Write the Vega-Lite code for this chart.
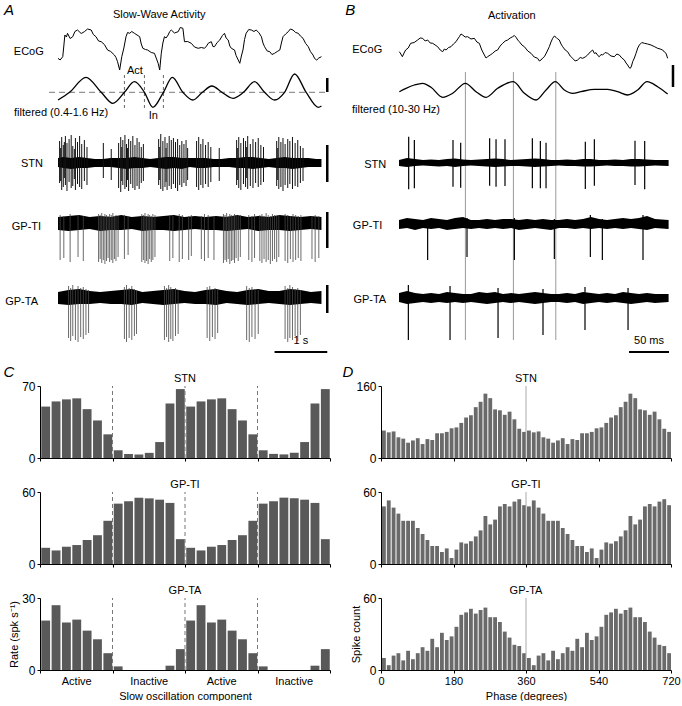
{
"$schema": "https://vega.github.io/schema/vega-lite/v6.json",
"background": "white",
"padding": {"left": 3, "top": 0, "right": 0, "bottom": 0},
"config": {
 "view": {"stroke": null},
 "font": "Liberation Sans",
 "axis": {"labelFont": "Liberation Sans", "titleFont": "Liberation Sans", "labelFontSize": 11, "titleFontSize": 11, "labelColor": "#000", "titleColor": "#000", "domainColor": "#000", "tickColor": "#000", "grid": false, "titleFontWeight": "normal", "tickSize": 3, "labelPadding": 2},
 "text": {"font": "Liberation Sans", "fontSize": 11, "color": "#000", "baseline": "middle"}
},
"datasets": {
 "C": [
  {"c":"STN","k":0,"k1":1,"r":50},{"c":"STN","k":1,"k1":2,"r":55},{"c":"STN","k":2,"k1":3,"r":57},{"c":"STN","k":3,"k1":4,"r":58},{"c":"STN","k":4,"k1":5,"r":47.5},{"c":"STN","k":5,"k1":6,"r":36.5},{"c":"STN","k":6,"k1":7,"r":23},
  {"c":"STN","k":7,"k1":8,"r":7.5},{"c":"STN","k":8,"k1":9,"r":4},{"c":"STN","k":9,"k1":10,"r":3.5},{"c":"STN","k":10,"k1":11,"r":5},{"c":"STN","k":11,"k1":12,"r":15.5},{"c":"STN","k":12,"k1":13,"r":53},{"c":"STN","k":13,"k1":14,"r":67},
  {"c":"STN","k":14,"k1":15,"r":50},{"c":"STN","k":15,"k1":16,"r":55},{"c":"STN","k":16,"k1":17,"r":57},{"c":"STN","k":17,"k1":18,"r":58},{"c":"STN","k":18,"k1":19,"r":47.5},{"c":"STN","k":19,"k1":20,"r":36.5},{"c":"STN","k":20,"k1":21,"r":23},
  {"c":"STN","k":21,"k1":22,"r":7.5},{"c":"STN","k":22,"k1":23,"r":4},{"c":"STN","k":23,"k1":24,"r":3.5},{"c":"STN","k":24,"k1":25,"r":5},{"c":"STN","k":25,"k1":26,"r":15.5},{"c":"STN","k":26,"k1":27,"r":53},{"c":"STN","k":27,"k1":28,"r":67},
  {"c":"GPTI","k":0,"k1":1,"r":13.5},{"c":"GPTI","k":1,"k1":2,"r":11.3},{"c":"GPTI","k":2,"k1":3,"r":14.4},{"c":"GPTI","k":3,"k1":4,"r":15.8},{"c":"GPTI","k":4,"k1":5,"r":20},{"c":"GPTI","k":5,"k1":6,"r":24},{"c":"GPTI","k":6,"k1":7,"r":36},
  {"c":"GPTI","k":7,"k1":8,"r":50.3},{"c":"GPTI","k":8,"k1":9,"r":52.3},{"c":"GPTI","k":9,"k1":10,"r":55.3},{"c":"GPTI","k":10,"k1":11,"r":54.7},{"c":"GPTI","k":11,"k1":12,"r":53.6},{"c":"GPTI","k":12,"k1":13,"r":50.9},{"c":"GPTI","k":13,"k1":14,"r":20.7},
  {"c":"GPTI","k":14,"k1":15,"r":13.5},{"c":"GPTI","k":15,"k1":16,"r":11.3},{"c":"GPTI","k":16,"k1":17,"r":14.4},{"c":"GPTI","k":17,"k1":18,"r":15.8},{"c":"GPTI","k":18,"k1":19,"r":20},{"c":"GPTI","k":19,"k1":20,"r":24},{"c":"GPTI","k":20,"k1":21,"r":36},
  {"c":"GPTI","k":21,"k1":22,"r":50.3},{"c":"GPTI","k":22,"k1":23,"r":52.3},{"c":"GPTI","k":23,"k1":24,"r":55.3},{"c":"GPTI","k":24,"k1":25,"r":54.7},{"c":"GPTI","k":25,"k1":26,"r":53.6},{"c":"GPTI","k":26,"k1":27,"r":50.9},{"c":"GPTI","k":27,"k1":28,"r":20.7},
  {"c":"GPTA","k":0,"k1":1,"r":20.6},{"c":"GPTA","k":1,"k1":2,"r":27},{"c":"GPTA","k":2,"k1":3,"r":19.8},{"c":"GPTA","k":3,"k1":4,"r":21},{"c":"GPTA","k":4,"k1":5,"r":16.4},{"c":"GPTA","k":5,"k1":6,"r":12.8},{"c":"GPTA","k":6,"k1":7,"r":7},
  {"c":"GPTA","k":7,"k1":8,"r":1.5},{"c":"GPTA","k":8,"k1":9,"r":0},{"c":"GPTA","k":9,"k1":10,"r":0},{"c":"GPTA","k":10,"k1":11,"r":0},{"c":"GPTA","k":11,"k1":12,"r":0},{"c":"GPTA","k":12,"k1":13,"r":1.8},{"c":"GPTA","k":13,"k1":14,"r":8.7},
  {"c":"GPTA","k":14,"k1":15,"r":20.6},{"c":"GPTA","k":15,"k1":16,"r":27},{"c":"GPTA","k":16,"k1":17,"r":19.8},{"c":"GPTA","k":17,"k1":18,"r":21},{"c":"GPTA","k":18,"k1":19,"r":16.4},{"c":"GPTA","k":19,"k1":20,"r":12.8},{"c":"GPTA","k":20,"k1":21,"r":7},
  {"c":"GPTA","k":21,"k1":22,"r":1.5},{"c":"GPTA","k":22,"k1":23,"r":0},{"c":"GPTA","k":23,"k1":24,"r":0},{"c":"GPTA","k":24,"k1":25,"r":0},{"c":"GPTA","k":25,"k1":26,"r":0},{"c":"GPTA","k":26,"k1":27,"r":1.8},{"c":"GPTA","k":27,"k1":28,"r":8.7}
 ],
 "D": [
  {"c":"STN","p":0,"p1":12,"n":61},{"c":"STN","p":12,"p1":24,"n":57},{"c":"STN","p":24,"p1":36,"n":59},{"c":"STN","p":36,"p1":48,"n":46},{"c":"STN","p":48,"p1":60,"n":43},{"c":"STN","p":60,"p1":72,"n":34},{"c":"STN","p":72,"p1":84,"n":39},{"c":"STN","p":84,"p1":96,"n":44},{"c":"STN","p":96,"p1":108,"n":31},{"c":"STN","p":108,"p1":120,"n":42},
  {"c":"STN","p":120,"p1":132,"n":40},{"c":"STN","p":132,"p1":144,"n":55},{"c":"STN","p":144,"p1":156,"n":55},{"c":"STN","p":156,"p1":168,"n":58},{"c":"STN","p":168,"p1":180,"n":66},{"c":"STN","p":180,"p1":192,"n":68},{"c":"STN","p":192,"p1":204,"n":78},{"c":"STN","p":204,"p1":216,"n":90},{"c":"STN","p":216,"p1":228,"n":95},{"c":"STN","p":228,"p1":240,"n":113},
  {"c":"STN","p":240,"p1":252,"n":125},{"c":"STN","p":252,"p1":264,"n":143},{"c":"STN","p":264,"p1":276,"n":133},{"c":"STN","p":276,"p1":288,"n":108},{"c":"STN","p":288,"p1":300,"n":106},{"c":"STN","p":300,"p1":312,"n":96},{"c":"STN","p":312,"p1":324,"n":103},{"c":"STN","p":324,"p1":336,"n":86},{"c":"STN","p":336,"p1":348,"n":65},{"c":"STN","p":348,"p1":360,"n":58},
  {"c":"STN","p":360,"p1":372,"n":61},{"c":"STN","p":372,"p1":384,"n":57},{"c":"STN","p":384,"p1":396,"n":59},{"c":"STN","p":396,"p1":408,"n":46},{"c":"STN","p":408,"p1":420,"n":43},{"c":"STN","p":420,"p1":432,"n":34},{"c":"STN","p":432,"p1":444,"n":39},{"c":"STN","p":444,"p1":456,"n":44},{"c":"STN","p":456,"p1":468,"n":31},{"c":"STN","p":468,"p1":480,"n":42},
  {"c":"STN","p":480,"p1":492,"n":40},{"c":"STN","p":492,"p1":504,"n":55},{"c":"STN","p":504,"p1":516,"n":55},{"c":"STN","p":516,"p1":528,"n":58},{"c":"STN","p":528,"p1":540,"n":66},{"c":"STN","p":540,"p1":552,"n":68},{"c":"STN","p":552,"p1":564,"n":78},{"c":"STN","p":564,"p1":576,"n":90},{"c":"STN","p":576,"p1":588,"n":95},{"c":"STN","p":588,"p1":600,"n":113},
  {"c":"STN","p":600,"p1":612,"n":125},{"c":"STN","p":612,"p1":624,"n":143},{"c":"STN","p":624,"p1":636,"n":133},{"c":"STN","p":636,"p1":648,"n":108},{"c":"STN","p":648,"p1":660,"n":106},{"c":"STN","p":660,"p1":672,"n":96},{"c":"STN","p":672,"p1":684,"n":103},{"c":"STN","p":684,"p1":696,"n":86},{"c":"STN","p":696,"p1":708,"n":65},{"c":"STN","p":708,"p1":720,"n":58},
  {"c":"GPTI","p":0,"p1":12,"n":48},{"c":"GPTI","p":12,"p1":24,"n":53},{"c":"GPTI","p":24,"p1":36,"n":47},{"c":"GPTI","p":36,"p1":48,"n":42},{"c":"GPTI","p":48,"p1":60,"n":36},{"c":"GPTI","p":60,"p1":72,"n":36},{"c":"GPTI","p":72,"p1":84,"n":36},{"c":"GPTI","p":84,"p1":96,"n":30},{"c":"GPTI","p":96,"p1":108,"n":25},{"c":"GPTI","p":108,"p1":120,"n":20},
  {"c":"GPTI","p":120,"p1":132,"n":15},{"c":"GPTI","p":132,"p1":144,"n":15},{"c":"GPTI","p":144,"p1":156,"n":10},{"c":"GPTI","p":156,"p1":168,"n":13},{"c":"GPTI","p":168,"p1":180,"n":5},{"c":"GPTI","p":180,"p1":192,"n":12},{"c":"GPTI","p":192,"p1":204,"n":18},{"c":"GPTI","p":204,"p1":216,"n":17},{"c":"GPTI","p":216,"p1":228,"n":19},{"c":"GPTI","p":228,"p1":240,"n":23},
  {"c":"GPTI","p":240,"p1":252,"n":28},{"c":"GPTI","p":252,"p1":264,"n":40},{"c":"GPTI","p":264,"p1":276,"n":33},{"c":"GPTI","p":276,"p1":288,"n":37},{"c":"GPTI","p":288,"p1":300,"n":48},{"c":"GPTI","p":300,"p1":312,"n":50},{"c":"GPTI","p":312,"p1":324,"n":48},{"c":"GPTI","p":324,"p1":336,"n":52},{"c":"GPTI","p":336,"p1":348,"n":54},{"c":"GPTI","p":348,"p1":360,"n":49},
  {"c":"GPTI","p":360,"p1":372,"n":48},{"c":"GPTI","p":372,"p1":384,"n":53},{"c":"GPTI","p":384,"p1":396,"n":47},{"c":"GPTI","p":396,"p1":408,"n":42},{"c":"GPTI","p":408,"p1":420,"n":36},{"c":"GPTI","p":420,"p1":432,"n":36},{"c":"GPTI","p":432,"p1":444,"n":36},{"c":"GPTI","p":444,"p1":456,"n":30},{"c":"GPTI","p":456,"p1":468,"n":25},{"c":"GPTI","p":468,"p1":480,"n":20},
  {"c":"GPTI","p":480,"p1":492,"n":15},{"c":"GPTI","p":492,"p1":504,"n":15},{"c":"GPTI","p":504,"p1":516,"n":10},{"c":"GPTI","p":516,"p1":528,"n":13},{"c":"GPTI","p":528,"p1":540,"n":5},{"c":"GPTI","p":540,"p1":552,"n":12},{"c":"GPTI","p":552,"p1":564,"n":18},{"c":"GPTI","p":564,"p1":576,"n":17},{"c":"GPTI","p":576,"p1":588,"n":19},{"c":"GPTI","p":588,"p1":600,"n":23},
  {"c":"GPTI","p":600,"p1":612,"n":28},{"c":"GPTI","p":612,"p1":624,"n":40},{"c":"GPTI","p":624,"p1":636,"n":33},{"c":"GPTI","p":636,"p1":648,"n":37},{"c":"GPTI","p":648,"p1":660,"n":48},{"c":"GPTI","p":660,"p1":672,"n":50},{"c":"GPTI","p":672,"p1":684,"n":48},{"c":"GPTI","p":684,"p1":696,"n":52},{"c":"GPTI","p":696,"p1":708,"n":54},{"c":"GPTI","p":708,"p1":720,"n":49},
  {"c":"GPTA","p":0,"p1":12,"n":10},{"c":"GPTA","p":12,"p1":24,"n":4},{"c":"GPTA","p":24,"p1":36,"n":12},{"c":"GPTA","p":36,"p1":48,"n":14},{"c":"GPTA","p":48,"p1":60,"n":8},{"c":"GPTA","p":60,"p1":72,"n":16},{"c":"GPTA","p":72,"p1":84,"n":9},{"c":"GPTA","p":84,"p1":96,"n":14},{"c":"GPTA","p":96,"p1":108,"n":19},{"c":"GPTA","p":108,"p1":120,"n":16},
  {"c":"GPTA","p":120,"p1":132,"n":26},{"c":"GPTA","p":132,"p1":144,"n":19},{"c":"GPTA","p":144,"p1":156,"n":31},{"c":"GPTA","p":156,"p1":168,"n":25},{"c":"GPTA","p":168,"p1":180,"n":28},{"c":"GPTA","p":180,"p1":192,"n":36},{"c":"GPTA","p":192,"p1":204,"n":46},{"c":"GPTA","p":204,"p1":216,"n":48},{"c":"GPTA","p":216,"p1":228,"n":51},{"c":"GPTA","p":228,"p1":240,"n":47},
  {"c":"GPTA","p":240,"p1":252,"n":50},{"c":"GPTA","p":252,"p1":264,"n":52},{"c":"GPTA","p":264,"p1":276,"n":44},{"c":"GPTA","p":276,"p1":288,"n":44},{"c":"GPTA","p":288,"p1":300,"n":40},{"c":"GPTA","p":300,"p1":312,"n":32},{"c":"GPTA","p":312,"p1":324,"n":27},{"c":"GPTA","p":324,"p1":336,"n":21},{"c":"GPTA","p":336,"p1":348,"n":20},{"c":"GPTA","p":348,"p1":360,"n":14},
  {"c":"GPTA","p":360,"p1":372,"n":10},{"c":"GPTA","p":372,"p1":384,"n":4},{"c":"GPTA","p":384,"p1":396,"n":12},{"c":"GPTA","p":396,"p1":408,"n":14},{"c":"GPTA","p":408,"p1":420,"n":8},{"c":"GPTA","p":420,"p1":432,"n":16},{"c":"GPTA","p":432,"p1":444,"n":9},{"c":"GPTA","p":444,"p1":456,"n":14},{"c":"GPTA","p":456,"p1":468,"n":19},{"c":"GPTA","p":468,"p1":480,"n":16},
  {"c":"GPTA","p":480,"p1":492,"n":26},{"c":"GPTA","p":492,"p1":504,"n":19},{"c":"GPTA","p":504,"p1":516,"n":31},{"c":"GPTA","p":516,"p1":528,"n":25},{"c":"GPTA","p":528,"p1":540,"n":28},{"c":"GPTA","p":540,"p1":552,"n":36},{"c":"GPTA","p":552,"p1":564,"n":46},{"c":"GPTA","p":564,"p1":576,"n":48},{"c":"GPTA","p":576,"p1":588,"n":51},{"c":"GPTA","p":588,"p1":600,"n":47},
  {"c":"GPTA","p":600,"p1":612,"n":50},{"c":"GPTA","p":612,"p1":624,"n":52},{"c":"GPTA","p":624,"p1":636,"n":44},{"c":"GPTA","p":636,"p1":648,"n":44},{"c":"GPTA","p":648,"p1":660,"n":40},{"c":"GPTA","p":660,"p1":672,"n":32},{"c":"GPTA","p":672,"p1":684,"n":27},{"c":"GPTA","p":684,"p1":696,"n":21},{"c":"GPTA","p":696,"p1":708,"n":20},{"c":"GPTA","p":708,"p1":720,"n":14}
 ]
},
"spacing": 5,
"vconcat": [
{"hconcat": [
 {"vconcat": [
  {"width": 292, "height": 72,
   "encoding": {"x": {"field": "t", "type": "quantitative", "scale": {"domain": [-0.342, 5.2], "nice": false, "zero": false}, "axis": null},
                "y": {"field": "v", "type": "quantitative", "scale": {"domain": [-2, 70], "nice": false, "zero": false}, "axis": null}},
   "layer": [
    {"data": {"values": [
      {"t":0.00,"v":11.7},{"t":0.04,"v":10.0},{"t":0.09,"v":13.3},{"t":0.11,"v":24.0},{"t":0.13,"v":35.0},{"t":0.16,"v":33.0},{"t":0.18,"v":36.7},{"t":0.23,"v":31.5},{"t":0.28,"v":33.3},{"t":0.32,"v":38.5},
      {"t":0.37,"v":40.0},{"t":0.44,"v":36.5},{"t":0.50,"v":38.3},{"t":0.56,"v":41.0},{"t":0.63,"v":40.0},{"t":0.67,"v":35.5},{"t":0.72,"v":33.3},{"t":0.77,"v":29.0},{"t":0.82,"v":28.3},{"t":0.88,"v":25.5},
      {"t":0.94,"v":20.0},{"t":1.00,"v":18.5},{"t":1.07,"v":15.0},{"t":1.10,"v":12.5},{"t":1.13,"v":8.3},{"t":1.17,"v":0.0},{"t":1.21,"v":13.3},{"t":1.25,"v":22.0},{"t":1.29,"v":33.3},{"t":1.32,"v":37.5},
      {"t":1.36,"v":36.7},{"t":1.40,"v":38.5},{"t":1.45,"v":36.7},{"t":1.50,"v":35.0},{"t":1.55,"v":33.3},{"t":1.58,"v":26.0},{"t":1.61,"v":21.7},{"t":1.66,"v":20.5},{"t":1.70,"v":20.0},{"t":1.77,"v":17.5},
      {"t":1.83,"v":16.7},{"t":1.87,"v":11.0},{"t":1.90,"v":6.7},{"t":1.93,"v":0.0},{"t":1.96,"v":16.7},{"t":1.99,"v":27.0},{"t":2.02,"v":33.3},{"t":2.05,"v":32.0},{"t":2.09,"v":35.0},{"t":2.12,"v":38.5},
      {"t":2.15,"v":40.0},{"t":2.21,"v":37.0},{"t":2.28,"v":38.3},{"t":2.32,"v":42.5},{"t":2.37,"v":41.7},{"t":2.40,"v":28.3},{"t":2.46,"v":28.5},{"t":2.53,"v":26.7},{"t":2.59,"v":23.0},{"t":2.66,"v":21.7},
      {"t":2.72,"v":22.5},{"t":2.78,"v":21.7},{"t":2.82,"v":24.0},{"t":2.85,"v":26.7},{"t":2.91,"v":28.3},{"t":2.94,"v":23.5},{"t":2.97,"v":23.3},{"t":3.02,"v":27.5},{"t":3.07,"v":30.0},{"t":3.12,"v":34.5},
      {"t":3.16,"v":36.7},{"t":3.19,"v":32.0},{"t":3.23,"v":30.0},{"t":3.26,"v":24.0},{"t":3.29,"v":21.7},{"t":3.35,"v":20.0},{"t":3.38,"v":14.5},{"t":3.42,"v":10.0},{"t":3.45,"v":6.7},{"t":3.48,"v":14.0},
      {"t":3.51,"v":20.0},{"t":3.54,"v":30.5},{"t":3.57,"v":36.7},{"t":3.62,"v":40.5},{"t":3.67,"v":40.0},{"t":3.72,"v":38.5},{"t":3.76,"v":40.0},{"t":3.81,"v":37.5},{"t":3.86,"v":33.3},{"t":3.89,"v":27.0},
      {"t":3.92,"v":23.3},{"t":3.97,"v":19.0},{"t":4.02,"v":18.3},{"t":4.06,"v":15.5},{"t":4.11,"v":16.7},{"t":4.16,"v":18.5},{"t":4.21,"v":20.0},{"t":4.24,"v":27.0},{"t":4.27,"v":33.3},{"t":4.32,"v":36.0},
      {"t":4.37,"v":38.3},{"t":4.41,"v":41.0},{"t":4.46,"v":40.0},{"t":4.51,"v":37.5},{"t":4.56,"v":36.7},{"t":4.60,"v":34.0},{"t":4.65,"v":31.7},{"t":4.70,"v":26.5},{"t":4.75,"v":23.3},{"t":4.79,"v":18.5},
      {"t":4.84,"v":15.0},{"t":4.87,"v":11.5},{"t":4.91,"v":10.0},{"t":4.95,"v":12.0},{"t":5.00,"v":13.3}]},
     "mark": {"type": "line", "color": "#000", "strokeWidth": 1}},
    {"data": {"values": [{"t": -0.93, "v": 60, "lab": "A"}]}, "mark": {"type": "text", "fontSize": 15, "fontStyle": "italic"}, "encoding": {"text": {"field": "lab"}}},
    {"data": {"values": [{"t": 1.92, "v": 55, "lab": "Slow-Wave Activity"}]}, "mark": {"type": "text"}, "encoding": {"text": {"field": "lab"}}},
    {"data": {"values": [{"t": -0.27, "v": 18, "lab": "ECoG"}]}, "mark": {"type": "text", "align": "right"}, "encoding": {"text": {"field": "lab"}}}
   ]},
  {"width": 292, "height": 46,
   "encoding": {"x": {"field": "t", "type": "quantitative", "scale": {"domain": [-0.342, 5.2], "nice": false, "zero": false}, "axis": null},
                "y": {"field": "v", "type": "quantitative", "scale": {"domain": [-25.7, 20.3], "nice": false, "zero": false}, "axis": null}},
   "layer": [
    {"data": {"values": [{"t": -0.17, "t2": 5.09, "v": 0}]}, "mark": {"type": "rule", "color": "#777", "strokeDash": [6, 4], "strokeWidth": 1},
     "encoding": {"x2": {"field": "t2"}}},
    {"data": {"values": [{"t": 1.26, "v": 17.3, "v2": -17.7}, {"t": 1.64, "v": 17.3, "v2": -17.7}, {"t": 2.0, "v": 17.3, "v2": -17.7}]}, "mark": {"type": "rule", "color": "#666", "strokeDash": [3, 3], "strokeWidth": 1},
     "encoding": {"y2": {"field": "v2"}}},
    {"data": {"values": [
      {"t":0.00,"v":-7.7},{"t":0.22,"v":0},{"t":0.53,"v":15},{"t":0.82,"v":0},{"t":1.04,"v":-11},{"t":1.26,"v":0},{"t":1.45,"v":10.6},{"t":1.64,"v":0},{"t":1.80,"v":-15},{"t":2.00,"v":0},
      {"t":2.17,"v":15},{"t":2.37,"v":0},{"t":2.56,"v":-7.7},{"t":2.74,"v":0},{"t":2.92,"v":6.3},{"t":3.11,"v":0},{"t":3.32,"v":-6},{"t":3.52,"v":0},{"t":3.73,"v":10.6},{"t":3.92,"v":0},
      {"t":4.11,"v":-7.7},{"t":4.30,"v":0},{"t":4.49,"v":18.3},{"t":4.71,"v":0},{"t":4.94,"v":-15},{"t":5.00,"v":-13.7}]},
     "mark": {"type": "line", "color": "#000", "strokeWidth": 1.3, "interpolate": "monotone"}},
    {"data": {"values": [{"t": 1.46, "v": 21.6, "lab": "Act"}, {"t": 1.81, "v": -23.4, "lab": "In"}]}, "mark": {"type": "text"}, "encoding": {"text": {"field": "lab"}}},
    {"data": {"values": [{"t": -0.835, "v": -20.2, "lab": "filtered (0.4-1.6 Hz)"}]}, "mark": {"type": "text", "align": "left"}, "encoding": {"text": {"field": "lab"}}},
    {"data": {"values": [{"t": 5.11, "v": 14.3, "v2": 0.3}]}, "mark": {"type": "rule", "color": "#000", "strokeWidth": 2.5},
     "encoding": {"y2": {"field": "v2"}}}
   ]},
  {"width": 292, "height": 82,
   "encoding": {"x": {"field": "t", "type": "quantitative", "scale": {"domain": [-0.342, 5.2], "nice": false, "zero": false}, "axis": null},
                "y": {"field": "v", "type": "quantitative", "scale": {"domain": [-37, 45], "nice": false, "zero": false}, "axis": null}},
   "layer": [
    {"data": {"values": [
      {"t":0.00,"lo":-4,"hi":5},{"t":0.10,"lo":-5,"hi":6},{"t":0.25,"lo":-6,"hi":5},{"t":0.40,"lo":-5,"hi":6},{"t":0.55,"lo":-5,"hi":5},{"t":0.70,"lo":-4,"hi":4},{"t":0.85,"lo":-4,"hi":4},{"t":1.00,"lo":-4,"hi":5},
      {"t":1.15,"lo":-5,"hi":5},{"t":1.30,"lo":-6,"hi":5},{"t":1.45,"lo":-5,"hi":6},{"t":1.60,"lo":-5,"hi":5},{"t":1.75,"lo":-4,"hi":4},{"t":1.90,"lo":-5,"hi":5},{"t":2.05,"lo":-6,"hi":6},{"t":2.20,"lo":-5,"hi":6},
      {"t":2.35,"lo":-6,"hi":5},{"t":2.50,"lo":-4,"hi":5},{"t":2.65,"lo":-5,"hi":5},{"t":2.80,"lo":-5,"hi":5},{"t":2.95,"lo":-4,"hi":4},{"t":3.10,"lo":-4,"hi":4},{"t":3.25,"lo":-4,"hi":5},{"t":3.40,"lo":-5,"hi":5},
      {"t":3.55,"lo":-5,"hi":6},{"t":3.70,"lo":-6,"hi":6},{"t":3.85,"lo":-5,"hi":5},{"t":4.00,"lo":-4,"hi":4},{"t":4.15,"lo":-5,"hi":5},{"t":4.30,"lo":-5,"hi":6},{"t":4.45,"lo":-6,"hi":5},{"t":4.60,"lo":-5,"hi":5},
      {"t":4.75,"lo":-4,"hi":5},{"t":4.90,"lo":-4,"hi":4},{"t":5.00,"lo":-4,"hi":4}]},
     "mark": {"type": "area", "color": "#000"},
     "encoding": {"y": {"field": "lo", "type": "quantitative", "axis": null}, "y2": {"field": "hi"}}},
    {"data": {"values": [
      {"t":0.03,"hi":22,"lo":-20},{"t":0.05,"hi":15,"lo":-18},{"t":0.07,"hi":26,"lo":-27},{"t":0.10,"hi":18,"lo":-24},{"t":0.12,"hi":21,"lo":-15},{"t":0.14,"hi":27,"lo":-22},{"t":0.17,"hi":20,"lo":-28},{"t":0.21,"hi":24,"lo":-19},{"t":0.25,"hi":28,"lo":-25},
      {"t":0.28,"hi":17,"lo":-23},{"t":0.31,"hi":14,"lo":-16},{"t":0.33,"hi":25,"lo":-27},{"t":0.37,"hi":21,"lo":-21},{"t":0.41,"hi":27,"lo":-24},{"t":0.45,"hi":19,"lo":-26},{"t":0.50,"hi":23,"lo":-18},{"t":0.55,"hi":16,"lo":-22},
      {"t":0.86,"hi":20,"lo":-15},{"t":1.01,"hi":14,"lo":-17},
      {"t":1.15,"hi":20,"lo":-25},{"t":1.19,"hi":26,"lo":-29},{"t":1.21,"hi":16,"lo":-18},{"t":1.23,"hi":23,"lo":-22},{"t":1.27,"hi":28,"lo":-26},{"t":1.30,"hi":19,"lo":-24},{"t":1.32,"hi":15,"lo":-17},{"t":1.34,"hi":24,"lo":-28},{"t":1.38,"hi":22,"lo":-21},
      {"t":1.42,"hi":27,"lo":-25},{"t":1.46,"hi":18,"lo":-27},{"t":1.50,"hi":25,"lo":-23},{"t":1.54,"hi":21,"lo":-26},{"t":1.58,"hi":16,"lo":-20},{"t":1.62,"hi":19,"lo":-18},
      {"t":1.91,"hi":24,"lo":-22},{"t":1.93,"hi":16,"lo":-17},{"t":1.95,"hi":29,"lo":-26},{"t":1.99,"hi":22,"lo":-28},{"t":2.03,"hi":26,"lo":-24},{"t":2.05,"hi":15,"lo":-19},{"t":2.07,"hi":20,"lo":-27},{"t":2.11,"hi":27,"lo":-23},{"t":2.15,"hi":23,"lo":-26},
      {"t":2.19,"hi":25,"lo":-21},{"t":2.23,"hi":21,"lo":-25},{"t":2.27,"hi":24,"lo":-28},{"t":2.31,"hi":18,"lo":-22},{"t":2.35,"hi":22,"lo":-24},{"t":2.39,"hi":19,"lo":-20},{"t":2.43,"hi":23,"lo":-23},{"t":2.46,"hi":15,"lo":-17},
      {"t":2.63,"hi":22,"lo":-24},{"t":2.67,"hi":26,"lo":-27},{"t":2.71,"hi":19,"lo":-22},{"t":2.75,"hi":24,"lo":-25},{"t":2.80,"hi":18,"lo":-21},{"t":2.85,"hi":21,"lo":-24},{"t":2.90,"hi":16,"lo":-19},{"t":3.06,"hi":15,"lo":-18},
      {"t":3.39,"hi":23,"lo":-22},{"t":3.41,"hi":15,"lo":-17},{"t":3.43,"hi":26,"lo":-25},{"t":3.47,"hi":20,"lo":-27},{"t":3.52,"hi":25,"lo":-21},{"t":3.56,"hi":22,"lo":-24},{"t":3.58,"hi":16,"lo":-15},{"t":3.60,"hi":27,"lo":-26},{"t":3.65,"hi":19,"lo":-23},
      {"t":3.70,"hi":24,"lo":-25},{"t":3.75,"hi":21,"lo":-20},{"t":3.80,"hi":25,"lo":-24},{"t":3.85,"hi":18,"lo":-22},{"t":3.90,"hi":16,"lo":-19},
      {"t":4.15,"hi":22,"lo":-23},{"t":4.17,"hi":15,"lo":-17},{"t":4.19,"hi":26,"lo":-26},{"t":4.23,"hi":21,"lo":-24},{"t":4.27,"hi":25,"lo":-28},{"t":4.31,"hi":19,"lo":-22},{"t":4.36,"hi":24,"lo":-25},{"t":4.40,"hi":22,"lo":-21},
      {"t":4.45,"hi":26,"lo":-26},{"t":4.50,"hi":20,"lo":-23},{"t":4.55,"hi":23,"lo":-24},{"t":4.60,"hi":17,"lo":-20},{"t":4.65,"hi":15,"lo":-18}]},
     "mark": {"type": "rule", "color": "#111", "strokeWidth": 1},
     "encoding": {"y": {"field": "hi", "type": "quantitative", "axis": null}, "y2": {"field": "lo"}}},
    {"data": {"values": [{"t": -0.285, "v": -1, "lab": "STN"}]}, "mark": {"type": "text", "align": "right"}, "encoding": {"text": {"field": "lab"}}},
    {"data": {"values": [{"t": 5.11, "v": 18, "v2": -19}]}, "mark": {"type": "rule", "color": "#000", "strokeWidth": 2.5},
     "encoding": {"y2": {"field": "v2"}}}
   ]},
  {"width": 292, "height": 70,
   "encoding": {"x": {"field": "t", "type": "quantitative", "scale": {"domain": [-0.342, 5.2], "nice": false, "zero": false}, "axis": null},
                "y": {"field": "v", "type": "quantitative", "scale": {"domain": [-46, 24], "nice": false, "zero": false}, "axis": null}},
   "layer": [
    {"data": {"values": [
      {"t":0.0,"lo":-6,"hi":7},{"t":0.2,"lo":-7,"hi":8},{"t":0.4,"lo":-6,"hi":9},{"t":0.6,"lo":-5,"hi":7},{"t":0.8,"lo":-7,"hi":8},{"t":1.0,"lo":-6,"hi":7},{"t":1.2,"lo":-6,"hi":9},{"t":1.4,"lo":-5,"hi":7},
      {"t":1.6,"lo":-7,"hi":8},{"t":1.8,"lo":-6,"hi":7},{"t":2.0,"lo":-6,"hi":8},{"t":2.2,"lo":-7,"hi":9},{"t":2.4,"lo":-6,"hi":7},{"t":2.6,"lo":-5,"hi":8},{"t":2.8,"lo":-6,"hi":7},{"t":3.0,"lo":-6,"hi":8},
      {"t":3.2,"lo":-7,"hi":7},{"t":3.4,"lo":-6,"hi":9},{"t":3.6,"lo":-5,"hi":7},{"t":3.8,"lo":-7,"hi":8},{"t":4.0,"lo":-6,"hi":7},{"t":4.2,"lo":-6,"hi":9},{"t":4.4,"lo":-7,"hi":8},{"t":4.6,"lo":-6,"hi":7},
      {"t":4.8,"lo":-5,"hi":8},{"t":5.0,"lo":-6,"hi":7}]},
     "mark": {"type": "area", "color": "#000"},
     "encoding": {"y": {"field": "lo", "type": "quantitative", "axis": null}, "y2": {"field": "hi"}}},
    {"data": {"values": [
      {"t":0.04,"hi":9,"lo":-36},{"t":0.11,"hi":8,"lo":-34},{"t":0.23,"hi":10,"lo":-38},{"t":0.38,"hi":9,"lo":-33},{"t":0.48,"hi":8,"lo":-37},
      {"t":0.77,"hi":10,"lo":-38},{"t":0.80,"hi":9,"lo":-35},{"t":0.83,"hi":11,"lo":-39},{"t":0.86,"hi":8,"lo":-36},{"t":0.89,"hi":10,"lo":-40},{"t":0.92,"hi":9,"lo":-37},{"t":0.95,"hi":8,"lo":-34},
      {"t":0.98,"hi":10,"lo":-38},{"t":1.01,"hi":9,"lo":-36},{"t":1.04,"hi":11,"lo":-39},{"t":1.07,"hi":8,"lo":-35},{"t":1.10,"hi":9,"lo":-37},{"t":1.14,"hi":8,"lo":-33},{"t":1.26,"hi":9,"lo":-35},{"t":1.33,"hi":8,"lo":-31},
      {"t":1.59,"hi":10,"lo":-38},{"t":1.62,"hi":9,"lo":-36},{"t":1.65,"hi":11,"lo":-39},{"t":1.68,"hi":8,"lo":-37},{"t":1.71,"hi":10,"lo":-40},{"t":1.74,"hi":9,"lo":-35},{"t":1.77,"hi":8,"lo":-38},{"t":1.80,"hi":10,"lo":-36},{"t":1.84,"hi":9,"lo":-33},
      {"t":2.12,"hi":9,"lo":-37},{"t":2.18,"hi":8,"lo":-34},{"t":2.30,"hi":10,"lo":-38},{"t":2.36,"hi":9,"lo":-35},{"t":2.48,"hi":8,"lo":-36},{"t":2.53,"hi":9,"lo":-32},
      {"t":2.72,"hi":8,"lo":-35},{"t":2.78,"hi":10,"lo":-37},{"t":2.85,"hi":9,"lo":-34},{"t":2.96,"hi":8,"lo":-36},
      {"t":3.14,"hi":10,"lo":-39},{"t":3.17,"hi":9,"lo":-36},{"t":3.20,"hi":11,"lo":-38},{"t":3.23,"hi":8,"lo":-35},{"t":3.26,"hi":10,"lo":-40},{"t":3.29,"hi":9,"lo":-37},{"t":3.32,"hi":8,"lo":-36},
      {"t":3.35,"hi":10,"lo":-39},{"t":3.38,"hi":9,"lo":-34},{"t":3.42,"hi":8,"lo":-37},{"t":3.46,"hi":9,"lo":-33},{"t":3.62,"hi":9,"lo":-36},{"t":3.68,"hi":8,"lo":-38},{"t":3.73,"hi":10,"lo":-34},
      {"t":3.83,"hi":9,"lo":-37},{"t":3.87,"hi":10,"lo":-39},{"t":3.91,"hi":8,"lo":-35},{"t":3.95,"hi":11,"lo":-38},{"t":3.99,"hi":9,"lo":-36},{"t":4.03,"hi":8,"lo":-40},{"t":4.07,"hi":10,"lo":-37},
      {"t":4.11,"hi":9,"lo":-35},{"t":4.15,"hi":8,"lo":-38},{"t":4.19,"hi":9,"lo":-33},
      {"t":4.31,"hi":10,"lo":-37},{"t":4.36,"hi":9,"lo":-39},{"t":4.41,"hi":8,"lo":-35},{"t":4.46,"hi":10,"lo":-38},{"t":4.51,"hi":9,"lo":-36},{"t":4.56,"hi":8,"lo":-34},{"t":4.61,"hi":9,"lo":-37},
      {"t":4.82,"hi":8,"lo":-35},{"t":4.88,"hi":9,"lo":-38},{"t":4.95,"hi":8,"lo":-34}]},
     "mark": {"type": "rule", "color": "#444", "strokeWidth": 0.8},
     "encoding": {"y": {"field": "hi", "type": "quantitative", "axis": null}, "y2": {"field": "lo"}}},
    {"data": {"values": [{"t": -0.32, "v": -3, "lab": "GP-TI"}]}, "mark": {"type": "text", "align": "right"}, "encoding": {"text": {"field": "lab"}}},
    {"data": {"values": [{"t": 5.11, "v": 12, "v2": -24}]}, "mark": {"type": "rule", "color": "#000", "strokeWidth": 2.5},
     "encoding": {"y2": {"field": "v2"}}}
   ]},
  {"width": 292, "height": 90,
   "encoding": {"x": {"field": "t", "type": "quantitative", "scale": {"domain": [-0.342, 5.2], "nice": false, "zero": false}, "axis": null},
                "y": {"field": "v", "type": "quantitative", "scale": {"domain": [-62, 28], "nice": false, "zero": false}, "axis": null}},
   "layer": [
    {"data": {"values": [
      {"t":0.0,"lo":-6,"hi":6},{"t":0.2,"lo":-7,"hi":8},{"t":0.4,"lo":-6,"hi":9},{"t":0.6,"lo":-6,"hi":7},{"t":0.8,"lo":-5,"hi":6},{"t":1.0,"lo":-6,"hi":7},{"t":1.2,"lo":-6,"hi":8},{"t":1.4,"lo":-7,"hi":9},
      {"t":1.6,"lo":-5,"hi":6},{"t":1.8,"lo":-6,"hi":7},{"t":2.0,"lo":-7,"hi":8},{"t":2.2,"lo":-6,"hi":9},{"t":2.4,"lo":-5,"hi":7},{"t":2.6,"lo":-6,"hi":6},{"t":2.8,"lo":-6,"hi":8},{"t":3.0,"lo":-7,"hi":9},
      {"t":3.2,"lo":-5,"hi":7},{"t":3.4,"lo":-6,"hi":6},{"t":3.6,"lo":-7,"hi":8},{"t":3.8,"lo":-6,"hi":9},{"t":4.0,"lo":-5,"hi":7},{"t":4.2,"lo":-6,"hi":7},{"t":4.4,"lo":-7,"hi":9},{"t":4.6,"lo":-6,"hi":8},
      {"t":4.8,"lo":-5,"hi":6},{"t":5.0,"lo":-6,"hi":7}]},
     "mark": {"type": "area", "color": "#000"},
     "encoding": {"y": {"field": "lo", "type": "quantitative", "axis": null}, "y2": {"field": "hi"}}},
    {"data": {"values": [
      {"t":0.20,"hi":12,"lo":-40},{"t":0.24,"hi":10,"lo":-43},{"t":0.28,"hi":13,"lo":-38},{"t":0.33,"hi":9,"lo":-42},{"t":0.38,"hi":12,"lo":-44},{"t":0.43,"hi":10,"lo":-39},{"t":0.48,"hi":11,"lo":-41},{"t":0.53,"hi":9,"lo":-37},{"t":0.58,"hi":8,"lo":-35},
      {"t":1.26,"hi":11,"lo":-41},{"t":1.30,"hi":13,"lo":-44},{"t":1.35,"hi":10,"lo":-40},{"t":1.40,"hi":12,"lo":-42},{"t":1.45,"hi":9,"lo":-38},{"t":1.49,"hi":8,"lo":-36},
      {"t":2.02,"hi":12,"lo":-42},{"t":2.06,"hi":10,"lo":-39},{"t":2.10,"hi":13,"lo":-44},{"t":2.14,"hi":11,"lo":-41},{"t":2.18,"hi":9,"lo":-43},{"t":2.23,"hi":10,"lo":-38},{"t":2.28,"hi":8,"lo":-36},
      {"t":2.83,"hi":11,"lo":-40},{"t":2.88,"hi":12,"lo":-43},{"t":2.93,"hi":9,"lo":-39},{"t":2.98,"hi":10,"lo":-41},{"t":3.03,"hi":8,"lo":-35},
      {"t":3.58,"hi":12,"lo":-42},{"t":3.63,"hi":10,"lo":-44},{"t":3.68,"hi":11,"lo":-39},{"t":3.74,"hi":9,"lo":-41},{"t":3.80,"hi":8,"lo":-36},
      {"t":4.31,"hi":12,"lo":-41},{"t":4.36,"hi":10,"lo":-44},{"t":4.40,"hi":13,"lo":-40},{"t":4.45,"hi":11,"lo":-42},{"t":4.50,"hi":9,"lo":-38},{"t":4.55,"hi":10,"lo":-43},{"t":4.60,"hi":8,"lo":-37}]},
     "mark": {"type": "rule", "color": "#444", "strokeWidth": 0.8},
     "encoding": {"y": {"field": "hi", "type": "quantitative", "axis": null}, "y2": {"field": "lo"}}},
    {"data": {"values": [{"t": -0.38, "v": -4, "lab": "GP-TA"}]}, "mark": {"type": "text", "align": "right"}, "encoding": {"text": {"field": "lab"}}},
    {"data": {"values": [{"t": 4.61, "v": -43, "lab": "1 s"}]}, "mark": {"type": "text", "align": "center"}, "encoding": {"text": {"field": "lab"}}},
    {"data": {"values": [{"t": 5.11, "v": 13, "v2": -15}]}, "mark": {"type": "rule", "color": "#000", "strokeWidth": 2.5},
     "encoding": {"y2": {"field": "v2"}}},
    {"data": {"values": [{"t": 4.11, "t2": 5.11, "v": -54}]}, "mark": {"type": "rule", "color": "#000", "strokeWidth": 2},
     "encoding": {"x2": {"field": "t2"}}}
   ]}
 ], "spacing": 0, "bounds": "flush"},
 {"vconcat": [
  {"width": 276, "height": 72,
   "encoding": {"x": {"field": "t", "type": "quantitative", "scale": {"domain": [0, 345], "nice": false, "zero": false}, "axis": null},
                "y": {"field": "v", "type": "quantitative", "scale": {"domain": [-2, 70], "nice": false, "zero": false}, "axis": null}},
   "layer": [
    {"data": {"values": [
      {"t":0.4,"v":18.3},{"t":2.3,"v":16},{"t":4.2,"v":13.3},{"t":6.3,"v":17},{"t":8.3,"v":20},{"t":11.5,"v":22},{"t":14.6,"v":26.7},{"t":19,"v":27.5},{"t":23.3,"v":30},{"t":26.5,"v":32},
      {"t":29.6,"v":31.7},{"t":32.7,"v":29},{"t":35.8,"v":30},{"t":39,"v":27},{"t":42.1,"v":26.7},{"t":45.2,"v":25},{"t":48.3,"v":23.3},{"t":51.5,"v":20},{"t":54.6,"v":18.3},{"t":56.7,"v":21},
      {"t":58.8,"v":20},{"t":62,"v":22.5},{"t":65,"v":23.3},{"t":68,"v":26},{"t":71.3,"v":28.3},{"t":73.4,"v":31},{"t":75.4,"v":33.3},{"t":77.5,"v":36},{"t":79.6,"v":35},{"t":82.7,"v":33},
      {"t":85.8,"v":33.3},{"t":90,"v":31},{"t":94.2,"v":31.7},{"t":97.3,"v":28},{"t":100.4,"v":26.7},{"t":103.5,"v":20},{"t":106.7,"v":15},{"t":108.8,"v":12},{"t":110.8,"v":13.3},{"t":114,"v":15},
      {"t":117.1,"v":16.7},{"t":120.2,"v":19},{"t":123.3,"v":20},{"t":126.4,"v":24},{"t":129.6,"v":26.7},{"t":132.7,"v":29},{"t":135.8,"v":30},{"t":139,"v":32},{"t":142.1,"v":33.3},{"t":144.2,"v":34.5},
      {"t":146.3,"v":32.7},{"t":148.4,"v":30},{"t":150.4,"v":28.3},{"t":153.6,"v":25},{"t":156.7,"v":23.3},{"t":161,"v":19},{"t":165,"v":16.7},{"t":169,"v":13},{"t":173.3,"v":11.7},{"t":175.4,"v":9},
      {"t":177.5,"v":10},{"t":179.6,"v":12},{"t":181.7,"v":13.3},{"t":184.8,"v":18},{"t":187.9,"v":23.3},{"t":190,"v":28},{"t":192.1,"v":31.7},{"t":194.2,"v":34},{"t":196.3,"v":32.7},{"t":198.4,"v":31},
      {"t":200.4,"v":30},{"t":202.5,"v":26},{"t":204.6,"v":23.3},{"t":207.7,"v":20},{"t":210.8,"v":18.3},{"t":214,"v":14},{"t":217.1,"v":11.7},{"t":220.2,"v":9},{"t":223.3,"v":10},{"t":226.5,"v":12.5},
      {"t":229.6,"v":11.7},{"t":232.7,"v":13},{"t":235.8,"v":15},{"t":239,"v":18},{"t":242.1,"v":20},{"t":244.2,"v":16.5},{"t":246.3,"v":17.3},{"t":248.4,"v":14.5},{"t":250.4,"v":13.3},{"t":252.5,"v":15.5},
      {"t":254.6,"v":15},{"t":257.7,"v":17.5},{"t":260.8,"v":16.7},{"t":265,"v":14},{"t":269.2,"v":13.3},{"t":272.3,"v":16},{"t":275.4,"v":15},{"t":278.5,"v":12},{"t":281.7,"v":10},{"t":283.8,"v":7},
      {"t":285.8,"v":5},{"t":287.5,"v":2.5},{"t":289.2,"v":1.7},{"t":290.6,"v":4},{"t":292.1,"v":8.3},{"t":294.2,"v":12},{"t":296.3,"v":16.7},{"t":298.4,"v":22},{"t":300.4,"v":25},{"t":303.5,"v":27.5},
      {"t":306.7,"v":26.7},{"t":310.8,"v":26},{"t":315,"v":25},{"t":319,"v":23.5},{"t":323.3,"v":21.7},{"t":326.5,"v":21},{"t":329.6,"v":20},{"t":331.7,"v":18},{"t":333.8,"v":16.7},{"t":335.8,"v":11.7}]},
     "mark": {"type": "line", "color": "#000", "strokeWidth": 1}},
    {"data": {"values": [{"t": -61, "v": 60, "lab": "B"}]}, "mark": {"type": "text", "fontSize": 15, "fontStyle": "italic"}, "encoding": {"text": {"field": "lab"}}},
    {"data": {"values": [{"t": 141, "v": 54, "lab": "Activation"}]}, "mark": {"type": "text"}, "encoding": {"text": {"field": "lab"}}},
    {"data": {"values": [{"t": -21, "v": 20, "lab": "ECoG"}]}, "mark": {"type": "text", "align": "right"}, "encoding": {"text": {"field": "lab"}}},
    {"data": {"values": [{"t": 342.5, "v": 5, "v2": -17}]}, "mark": {"type": "rule", "color": "#000", "strokeWidth": 2.5},
     "encoding": {"y2": {"field": "v2"}}}
   ]},
  {"width": 276, "height": 46,
   "encoding": {"x": {"field": "t", "type": "quantitative", "scale": {"domain": [0, 345], "nice": false, "zero": false}, "axis": null},
                "y": {"field": "v", "type": "quantitative", "scale": {"domain": [-28, 18], "nice": false, "zero": false}, "axis": null}},
   "layer": [
    {"data": {"values": [{"t": 83, "v": 18, "v2": -28}, {"t": 143, "v": 18, "v2": -28}, {"t": 196, "v": 18, "v2": -28}]}, "mark": {"type": "rule", "color": "#999", "strokeWidth": 1},
     "encoding": {"y2": {"field": "v2"}}},
    {"data": {"values": [
      {"t":0.4,"v":-1.7},{"t":8.8,"v":1.7},{"t":19.2,"v":5},{"t":29.6,"v":6.7},{"t":40,"v":2.7},{"t":54.6,"v":-7.3},{"t":67.1,"v":-3.3},{"t":82.9,"v":6.7},{"t":96.3,"v":-1.7},{"t":108.8,"v":-7.3},
      {"t":123.3,"v":1.7},{"t":142.9,"v":8.3},{"t":156.7,"v":-3.3},{"t":171.3,"v":-10},{"t":183.8,"v":0},{"t":195.4,"v":8.3},{"t":206.7,"v":0},{"t":217.1,"v":-3.3},{"t":227.5,"v":-1.7},{"t":244.2,"v":0.7},
      {"t":260.8,"v":0.7},{"t":273.3,"v":-1.7},{"t":285.8,"v":-5},{"t":298.3,"v":0},{"t":310,"v":8.3},{"t":323.3,"v":3.3},{"t":335.8,"v":-4}]},
     "mark": {"type": "line", "color": "#000", "strokeWidth": 1.3, "interpolate": "monotone"}},
    {"data": {"values": [{"t": -58.75, "v": -20, "lab": "filtered (10-30 Hz)"}]}, "mark": {"type": "text", "align": "left"}, "encoding": {"text": {"field": "lab"}}}
   ]},
  {"width": 276, "height": 82,
   "encoding": {"x": {"field": "t", "type": "quantitative", "scale": {"domain": [0, 345], "nice": false, "zero": false}, "axis": null},
                "y": {"field": "v", "type": "quantitative", "scale": {"domain": [-37, 45], "nice": false, "zero": false}, "axis": null}},
   "layer": [
    {"data": {"values": [{"t": 83, "v": 45, "v2": -37}, {"t": 143, "v": 45, "v2": -37}, {"t": 196, "v": 45, "v2": -37}]}, "mark": {"type": "rule", "color": "#999", "strokeWidth": 1},
     "encoding": {"y2": {"field": "v2"}}},
    {"data": {"values": [
      {"t":0,"lo":-3,"hi":3},{"t":10,"lo":-4,"hi":5},{"t":20,"lo":-3,"hi":4},{"t":30,"lo":-2.5,"hi":3},{"t":40,"lo":-3,"hi":3.5},{"t":50,"lo":-3.5,"hi":3},{"t":60,"lo":-3,"hi":4},{"t":70,"lo":-4,"hi":4.5},
      {"t":80,"lo":-3,"hi":3.5},{"t":90,"lo":-2.5,"hi":3},{"t":100,"lo":-3,"hi":3.5},{"t":110,"lo":-3.5,"hi":4},{"t":120,"lo":-4,"hi":4.5},{"t":130,"lo":-3.5,"hi":4},{"t":140,"lo":-3,"hi":3},{"t":150,"lo":-3,"hi":3.5},
      {"t":160,"lo":-3.5,"hi":4},{"t":170,"lo":-4,"hi":4.5},{"t":180,"lo":-3.5,"hi":4},{"t":190,"lo":-3,"hi":3},{"t":200,"lo":-2.5,"hi":3},{"t":210,"lo":-3,"hi":3.5},{"t":220,"lo":-3,"hi":3},{"t":230,"lo":-3.5,"hi":4},
      {"t":240,"lo":-3.5,"hi":4},{"t":250,"lo":-3,"hi":3},{"t":260,"lo":-2.5,"hi":3},{"t":270,"lo":-3,"hi":3.5},{"t":280,"lo":-3,"hi":3},{"t":290,"lo":-3.5,"hi":4},{"t":300,"lo":-3.5,"hi":4},{"t":310,"lo":-3,"hi":3.5},
      {"t":320,"lo":-2.5,"hi":3},{"t":337,"lo":-3,"hi":3}]},
     "mark": {"type": "area", "color": "#000"},
     "encoding": {"y": {"field": "lo", "type": "quantitative", "axis": null}, "y2": {"field": "hi"}}},
    {"data": {"values": [
      {"t":12.1,"hi":26.3,"lo":-26.3},{"t":19.2,"hi":23,"lo":-25.3},{"t":67.5,"hi":23,"lo":-23.7},{"t":77.1,"hi":20.3,"lo":-24.7},{"t":113.3,"hi":24.7,"lo":-22.7},{"t":121.3,"hi":23.7,"lo":-23.7},{"t":132.5,"hi":23.7,"lo":-23},
      {"t":166.7,"hi":24.7,"lo":-25.3},{"t":176.7,"hi":22,"lo":-25.3},{"t":183.8,"hi":20.3,"lo":-25.3},{"t":232.9,"hi":21.3,"lo":-26},{"t":244.2,"hi":23.7,"lo":-22.7},{"t":295,"hi":22.3,"lo":-22},{"t":307.1,"hi":22,"lo":-26.3}]},
     "mark": {"type": "rule", "color": "#000", "strokeWidth": 1.2},
     "encoding": {"y": {"field": "hi", "type": "quantitative", "axis": null}, "y2": {"field": "lo"}}},
    {"data": {"values": [{"t": -16, "v": -2, "lab": "STN"}]}, "mark": {"type": "text", "align": "right"}, "encoding": {"text": {"field": "lab"}}}
   ]},
  {"width": 276, "height": 70,
   "encoding": {"x": {"field": "t", "type": "quantitative", "scale": {"domain": [0, 345], "nice": false, "zero": false}, "axis": null},
                "y": {"field": "v", "type": "quantitative", "scale": {"domain": [-46, 24], "nice": false, "zero": false}, "axis": null}},
   "layer": [
    {"data": {"values": [{"t": 83, "v": 24, "v2": -46}, {"t": 143, "v": 24, "v2": -46}, {"t": 196, "v": 24, "v2": -46}]}, "mark": {"type": "rule", "color": "#999", "strokeWidth": 1},
     "encoding": {"y2": {"field": "v2"}}},
    {"data": {"values": [
      {"t":0,"lo":-5,"hi":4},{"t":10,"lo":-4,"hi":6},{"t":20,"lo":-6,"hi":5},{"t":30,"lo":-4,"hi":4},{"t":40,"lo":-5,"hi":6},{"t":50,"lo":-4,"hi":5},{"t":60,"lo":-6,"hi":4},{"t":70,"lo":-5,"hi":6},
      {"t":80,"lo":-4,"hi":7},{"t":90,"lo":-5,"hi":4},{"t":100,"lo":-4,"hi":4},{"t":110,"lo":-5,"hi":5},{"t":120,"lo":-4,"hi":4},{"t":130,"lo":-5,"hi":5},{"t":140,"lo":-4,"hi":5},{"t":150,"lo":-6,"hi":4},
      {"t":160,"lo":-5,"hi":5},{"t":170,"lo":-4,"hi":4},{"t":180,"lo":-5,"hi":5},{"t":190,"lo":-6,"hi":4},{"t":200,"lo":-4,"hi":4},{"t":210,"lo":-4,"hi":5},{"t":220,"lo":-5,"hi":4},{"t":230,"lo":-4,"hi":5},
      {"t":240,"lo":-5,"hi":7},{"t":250,"lo":-4,"hi":5},{"t":260,"lo":-5,"hi":4},{"t":270,"lo":-4,"hi":5},{"t":280,"lo":-5,"hi":6},{"t":290,"lo":-4,"hi":5},{"t":300,"lo":-5,"hi":6},{"t":310,"lo":-6,"hi":8},
      {"t":320,"lo":-4,"hi":5},{"t":337,"lo":-5,"hi":4}]},
     "mark": {"type": "area", "color": "#000"},
     "encoding": {"y": {"field": "lo", "type": "quantitative", "axis": null}, "y2": {"field": "hi"}}},
    {"data": {"values": [
      {"t":35.8,"hi":5,"lo":-36},{"t":85,"hi":6,"lo":-33},{"t":144.2,"hi":6,"lo":-36},{"t":194.2,"hi":5,"lo":-35},{"t":239.2,"hi":9,"lo":-33},{"t":254.2,"hi":5,"lo":-36},{"t":305,"hi":9,"lo":-36}]},
     "mark": {"type": "rule", "color": "#000", "strokeWidth": 1.2},
     "encoding": {"y": {"field": "hi", "type": "quantitative", "axis": null}, "y2": {"field": "lo"}}},
    {"data": {"values": [{"t": -21, "v": -2, "lab": "GP-TI"}]}, "mark": {"type": "text", "align": "right"}, "encoding": {"text": {"field": "lab"}}}
   ]},
  {"width": 276, "height": 90,
   "encoding": {"x": {"field": "t", "type": "quantitative", "scale": {"domain": [0, 345], "nice": false, "zero": false}, "axis": null},
                "y": {"field": "v", "type": "quantitative", "scale": {"domain": [-62, 28], "nice": false, "zero": false}, "axis": null}},
   "layer": [
    {"data": {"values": [{"t": 83, "v": 28, "v2": -42}, {"t": 143, "v": 28, "v2": -42}, {"t": 196, "v": 28, "v2": -42}]}, "mark": {"type": "rule", "color": "#999", "strokeWidth": 1},
     "encoding": {"y2": {"field": "v2"}}},
    {"data": {"values": [
      {"t":0,"lo":-4,"hi":5},{"t":10,"lo":-6,"hi":7},{"t":20,"lo":-5,"hi":5},{"t":30,"lo":-4,"hi":4},{"t":40,"lo":-5,"hi":5},{"t":50,"lo":-4,"hi":4},{"t":60,"lo":-5,"hi":6},{"t":70,"lo":-4,"hi":5},
      {"t":80,"lo":-5,"hi":4},{"t":90,"lo":-4,"hi":4},{"t":100,"lo":-5,"hi":6},{"t":110,"lo":-6,"hi":5},{"t":120,"lo":-5,"hi":6},{"t":130,"lo":-4,"hi":4},{"t":140,"lo":-5,"hi":5},{"t":150,"lo":-4,"hi":4},
      {"t":160,"lo":-5,"hi":5},{"t":170,"lo":-6,"hi":6},{"t":180,"lo":-5,"hi":5},{"t":190,"lo":-4,"hi":4},{"t":200,"lo":-4,"hi":4},{"t":210,"lo":-5,"hi":5},{"t":220,"lo":-4,"hi":4},{"t":230,"lo":-6,"hi":6},
      {"t":240,"lo":-5,"hi":5},{"t":250,"lo":-4,"hi":4},{"t":260,"lo":-5,"hi":5},{"t":270,"lo":-4,"hi":4},{"t":280,"lo":-5,"hi":6},{"t":290,"lo":-6,"hi":5},{"t":300,"lo":-5,"hi":4},{"t":310,"lo":-4,"hi":5},
      {"t":320,"lo":-5,"hi":4},{"t":337,"lo":-4,"hi":4}]},
     "mark": {"type": "area", "color": "#000"},
     "encoding": {"y": {"field": "lo", "type": "quantitative", "axis": null}, "y2": {"field": "hi"}}},
    {"data": {"values": [
      {"t":11.7,"hi":13,"lo":-42},{"t":63.8,"hi":12,"lo":-42},{"t":123.8,"hi":10,"lo":-40},{"t":180,"hi":9,"lo":-37},{"t":232.5,"hi":11,"lo":-32},{"t":286.3,"hi":10,"lo":-32}]},
     "mark": {"type": "rule", "color": "#000", "strokeWidth": 1.2},
     "encoding": {"y": {"field": "hi", "type": "quantitative", "axis": null}, "y2": {"field": "lo"}}},
    {"data": {"values": [{"t": -16, "v": -2, "lab": "GP-TA"}]}, "mark": {"type": "text", "align": "right"}, "encoding": {"text": {"field": "lab"}}},
    {"data": {"values": [{"t": 312.5, "v": -43, "lab": "50 ms"}]}, "mark": {"type": "text", "align": "center"}, "encoding": {"text": {"field": "lab"}}},
    {"data": {"values": [{"t": 287.5, "t2": 337.5, "v": -54}]}, "mark": {"type": "rule", "color": "#000", "strokeWidth": 2},
     "encoding": {"x2": {"field": "t2"}}}
   ]}
 ], "spacing": 0, "bounds": "flush"}
], "spacing": 13},
{"hconcat": [
 {"vconcat": [
  {"width": 290, "height": 72,
   "layer": [
    {"data": {"name": "C"}, "transform": [{"filter": "datum.c=='STN'"}],
     "mark": {"type": "bar", "color": "#595959", "binSpacing": 1.5},
     "encoding": {"x": {"field": "k", "type": "quantitative", "bin": {"binned": true}, "scale": {"domain": [0, 28], "nice": false, "zero": false}, "axis": {"values": [0, 7, 14, 21, 28], "labels": false, "title": null}},
                  "x2": {"field": "k1"},
                  "y": {"field": "r", "type": "quantitative", "scale": {"domain": [0, 70], "nice": false}, "axis": {"values": [0, 10, 20, 30, 40, 50, 60, 70], "labelExpr": "datum.value==0||datum.value==70?datum.label:''", "title": null, "labelFontSize": 12}}}},
    {"data": {"values": [{"k": 7}, {"k": 14}, {"k": 21}]}, "mark": {"type": "rule", "color": "#777", "strokeDash": [4, 3], "strokeWidth": 1},
     "encoding": {"x": {"field": "k", "type": "quantitative"}, "y": {"datum": 0}, "y2": {"datum": 70}}},
    {"data": {"values": [{"k": -3, "r": 83.6, "lab": "C"}]}, "mark": {"type": "text", "fontSize": 15, "fontStyle": "italic"},
     "encoding": {"x": {"field": "k", "type": "quantitative"}, "y": {"field": "r", "type": "quantitative"}, "text": {"field": "lab"}}},
    {"data": {"values": [{"k": 14, "r": 76.8, "lab": "STN"}]}, "mark": {"type": "text"},
     "encoding": {"x": {"field": "k", "type": "quantitative"}, "y": {"field": "r", "type": "quantitative"}, "text": {"field": "lab"}}}
   ]},
  {"width": 290, "height": 72,
   "layer": [
    {"data": {"name": "C"}, "transform": [{"filter": "datum.c=='GPTI'"}],
     "mark": {"type": "bar", "color": "#595959", "binSpacing": 1.5},
     "encoding": {"x": {"field": "k", "type": "quantitative", "bin": {"binned": true}, "scale": {"domain": [0, 28], "nice": false, "zero": false}, "axis": {"values": [0, 7, 14, 21, 28], "labels": false, "title": null}},
                  "x2": {"field": "k1"},
                  "y": {"field": "r", "type": "quantitative", "scale": {"domain": [0, 60], "nice": false}, "axis": {"values": [0, 10, 20, 30, 40, 50, 60], "labelExpr": "datum.value==0||datum.value==60?datum.label:''", "title": null, "labelFontSize": 12}}}},
    {"data": {"values": [{"k": 7}, {"k": 14}, {"k": 21}]}, "mark": {"type": "rule", "color": "#777", "strokeDash": [4, 3], "strokeWidth": 1},
     "encoding": {"x": {"field": "k", "type": "quantitative"}, "y": {"datum": 0}, "y2": {"datum": 60}}},
    {"data": {"values": [{"k": 14, "r": 65.8, "lab": "GP-TI"}]}, "mark": {"type": "text"},
     "encoding": {"x": {"field": "k", "type": "quantitative"}, "y": {"field": "r", "type": "quantitative"}, "text": {"field": "lab"}}}
   ]},
  {"width": 290, "height": 72,
   "layer": [
    {"data": {"name": "C"}, "transform": [{"filter": "datum.c=='GPTA'"}],
     "mark": {"type": "bar", "color": "#595959", "binSpacing": 1.5},
     "encoding": {"x": {"field": "k", "type": "quantitative", "bin": {"binned": true}, "scale": {"domain": [0, 28], "nice": false, "zero": false},
                        "axis": {"values": [0, 7, 14, 21, 28], "labelExpr": "datum.value==0||datum.value==14?'Active':(datum.value==7||datum.value==21?'Inactive':'')", "labelOffset": 36.25, "labelFlush": false, "labelOverlap": false, "labelBound": false, "title": "Slow oscillation component"}},
                  "x2": {"field": "k1"},
                  "y": {"field": "r", "type": "quantitative", "scale": {"domain": [0, 30], "nice": false}, "axis": {"values": [0, 5, 10, 15, 20, 25, 30], "labelExpr": "datum.value==0||datum.value==30?datum.label:''", "title": "Rate (spk s⁻¹)", "titlePadding": 2, "labelFontSize": 12}}}},
    {"data": {"values": [{"k": 7}, {"k": 14}, {"k": 21}]}, "mark": {"type": "rule", "color": "#777", "strokeDash": [4, 3], "strokeWidth": 1},
     "encoding": {"x": {"field": "k", "type": "quantitative"}, "y": {"datum": 0}, "y2": {"datum": 30}}},
    {"data": {"values": [{"k": 14, "r": 32.9, "lab": "GP-TA"}]}, "mark": {"type": "text"},
     "encoding": {"x": {"field": "k", "type": "quantitative"}, "y": {"field": "r", "type": "quantitative"}, "text": {"field": "lab"}}}
   ]}
 ], "spacing": 34, "bounds": "flush"},
 {"vconcat": [
  {"width": 290, "height": 72,
   "layer": [
    {"data": {"name": "D"}, "transform": [{"filter": "datum.c=='STN'"}],
     "mark": {"type": "bar", "color": "#6a6a6a", "binSpacing": 1},
     "encoding": {"x": {"field": "p", "type": "quantitative", "bin": {"binned": true}, "scale": {"domain": [0, 720], "nice": false, "zero": false}, "axis": {"values": [0, 180, 360, 540, 720], "labels": false, "title": null}},
                  "x2": {"field": "p1"},
                  "y": {"field": "n", "type": "quantitative", "scale": {"domain": [0, 160], "nice": false}, "axis": {"values": [0, 20, 40, 60, 80, 100, 120, 140, 160], "labelExpr": "datum.value==0||datum.value==160?datum.label:''", "title": null, "labelFontSize": 12}}}},
    {"data": {"values": [{"p": 360}]}, "mark": {"type": "rule", "color": "#aaa", "strokeWidth": 1},
     "encoding": {"x": {"field": "p", "type": "quantitative"}, "y": {"datum": 0}, "y2": {"datum": 160}}},
    {"data": {"values": [{"p": -82, "n": 191, "lab": "D"}]}, "mark": {"type": "text", "fontSize": 15, "fontStyle": "italic"},
     "encoding": {"x": {"field": "p", "type": "quantitative"}, "y": {"field": "n", "type": "quantitative"}, "text": {"field": "lab"}}},
    {"data": {"values": [{"p": 360, "n": 175.6, "lab": "STN"}]}, "mark": {"type": "text"},
     "encoding": {"x": {"field": "p", "type": "quantitative"}, "y": {"field": "n", "type": "quantitative"}, "text": {"field": "lab"}}}
   ]},
  {"width": 290, "height": 72,
   "layer": [
    {"data": {"name": "D"}, "transform": [{"filter": "datum.c=='GPTI'"}],
     "mark": {"type": "bar", "color": "#6a6a6a", "binSpacing": 1},
     "encoding": {"x": {"field": "p", "type": "quantitative", "bin": {"binned": true}, "scale": {"domain": [0, 720], "nice": false, "zero": false}, "axis": {"values": [0, 180, 360, 540, 720], "labels": false, "title": null}},
                  "x2": {"field": "p1"},
                  "y": {"field": "n", "type": "quantitative", "scale": {"domain": [0, 60], "nice": false}, "axis": {"values": [0, 10, 20, 30, 40, 50, 60], "labelExpr": "datum.value==0||datum.value==60?datum.label:''", "title": null, "labelFontSize": 12}}}},
    {"data": {"values": [{"p": 360}]}, "mark": {"type": "rule", "color": "#aaa", "strokeWidth": 1},
     "encoding": {"x": {"field": "p", "type": "quantitative"}, "y": {"datum": 0}, "y2": {"datum": 60}}},
    {"data": {"values": [{"p": 360, "n": 65.8, "lab": "GP-TI"}]}, "mark": {"type": "text"},
     "encoding": {"x": {"field": "p", "type": "quantitative"}, "y": {"field": "n", "type": "quantitative"}, "text": {"field": "lab"}}}
   ]},
  {"width": 290, "height": 72,
   "layer": [
    {"data": {"name": "D"}, "transform": [{"filter": "datum.c=='GPTA'"}],
     "mark": {"type": "bar", "color": "#6a6a6a", "binSpacing": 1},
     "encoding": {"x": {"field": "p", "type": "quantitative", "bin": {"binned": true}, "scale": {"domain": [0, 720], "nice": false, "zero": false}, "axis": {"values": [0, 180, 360, 540, 720], "title": "Phase (degrees)", "labelFlush": false}},
                  "x2": {"field": "p1"},
                  "y": {"field": "n", "type": "quantitative", "scale": {"domain": [0, 60], "nice": false}, "axis": {"values": [0, 10, 20, 30, 40, 50, 60], "labelExpr": "datum.value==0||datum.value==60?datum.label:''", "title": "Spike count", "titlePadding": 1, "labelFontSize": 12}}}},
    {"data": {"values": [{"p": 360}]}, "mark": {"type": "rule", "color": "#aaa", "strokeWidth": 1},
     "encoding": {"x": {"field": "p", "type": "quantitative"}, "y": {"datum": 0}, "y2": {"datum": 60}}},
    {"data": {"values": [{"p": 360, "n": 65.8, "lab": "GP-TA"}]}, "mark": {"type": "text"},
     "encoding": {"x": {"field": "p", "type": "quantitative"}, "y": {"field": "n", "type": "quantitative"}, "text": {"field": "lab"}}}
   ]}
 ], "spacing": 34, "bounds": "flush"}
], "spacing": -25}
]
}
